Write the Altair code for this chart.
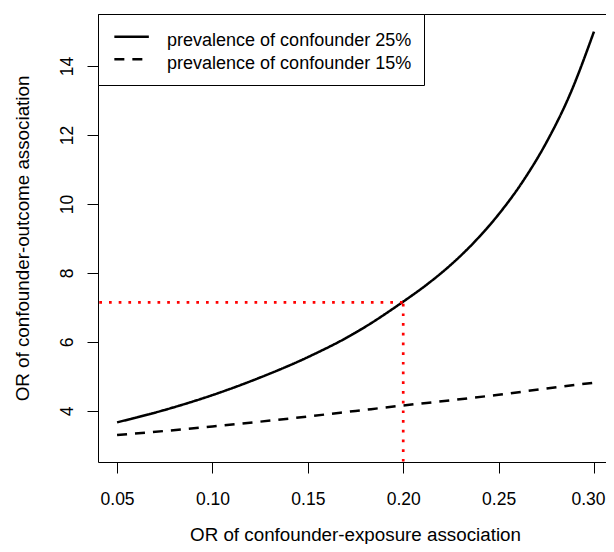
import altair as alt
import pandas as pd

# ---- data ----
x_prev25 = [0.05, 0.075, 0.10, 0.125, 0.15, 0.175, 0.20, 0.2125, 0.225, 0.2375, 0.25, 0.2625, 0.275, 0.2875, 0.30]
or_prev25 = [3.67, 4.03, 4.46, 4.97, 5.56, 6.27, 7.17, 7.67, 8.24, 8.91, 9.70, 10.64, 11.78, 13.19, 15.0]
x_prev15 = [0.05, 0.075, 0.10, 0.125, 0.15, 0.175, 0.20, 0.225, 0.25, 0.275, 0.30]
or_prev15 = [3.30, 3.42, 3.55, 3.69, 3.84, 4.00, 4.16, 4.31, 4.47, 4.65, 4.82]
series_labels = ["prevalence of confounder 25%", "prevalence of confounder 15%"]
x_ticks = [0.05, 0.10, 0.15, 0.20, 0.25, 0.30]
y_ticks = [4, 6, 8, 10, 12, 14]
ref_x = 0.20
ref_y = 7.15

rows = [{"x": a, "y": b, "series": series_labels[0]} for a, b in zip(x_prev25, or_prev25)]
rows += [{"x": a, "y": b, "series": series_labels[1]} for a, b in zip(x_prev15, or_prev15)]
df = pd.DataFrame(rows)

FONT = "Liberation Sans"
xscale = alt.Scale(domain=[0.04, 0.3063], nice=False, zero=False)
yscale = alt.Scale(domain=[2.52, 15.51], nice=False, zero=False)

xaxis = alt.Axis(values=x_ticks, format=".2f", grid=False, domain=False,
                 tickSize=11, tickColor="black", tickWidth=1,
                 labelFont=FONT, labelFontSize=17.5, labelColor="black",
                 labelPadding=17.5, labelFlush=15, labelFlushOffset=11,
                 title="OR of confounder-exposure association",
                 titleFont=FONT, titleFontSize=18.8, titleFontWeight="normal",
                 titleColor="black", titleX=257, titleY=78,
                 titleAlign="center", titleBaseline="alphabetic")
yaxis = alt.Axis(values=y_ticks, grid=False, domain=False,
                 tickSize=11, tickColor="black", tickWidth=1,
                 labelFont=FONT, labelFontSize=17.5, labelColor="black",
                 labelAngle=270, labelAlign="center", labelBaseline="alphabetic",
                 labelPadding=15, labelFlush=False,
                 title="OR of confounder-outcome association",
                 titleFont=FONT, titleFontSize=18.8, titleFontWeight="normal",
                 titleColor="black", titleAngle=270, titleX=-70, titleY=224,
                 titleAlign="center", titleBaseline="alphabetic")

lines = alt.Chart(df).mark_line(
    color="black", strokeWidth=2.5, interpolate="monotone", clip=True, strokeCap="butt"
).encode(
    x=alt.X("x:Q", scale=xscale, axis=xaxis),
    y=alt.Y("y:Q", scale=yscale, axis=yaxis),
    strokeDash=alt.StrokeDash(
        "series:N",
        scale=alt.Scale(domain=series_labels, range=[[1, 0], [10, 8]]),
        legend=alt.Legend(
            title=" ", titleFontSize=1, titlePadding=4,
            orient="none", legendX=0, legendY=0,
            strokeColor="black", fillColor="white", padding=12,
            symbolType="M-2,-0.5H2", symbolSize=297.6, symbolStrokeWidth=2.5,
            symbolStrokeColor="black", symbolOffset=11.6,
            labelOffset=25.45, labelFont=FONT, labelFontSize=18,
            labelColor="black", labelLimit=0, rowPadding=3.5,
        ),
    ),
)

hdf = pd.DataFrame({"x0": [0.0], "x1": [ref_x], "y": [ref_y]})
vdf = pd.DataFrame({"x": [ref_x], "y0": [0.0], "y1": [ref_y]})

hrule = alt.Chart(hdf).mark_rule(color="red", strokeWidth=2.7, strokeDash=[2.7, 7], clip=True).encode(
    x=alt.X("x0:Q", scale=xscale), x2="x1:Q", y=alt.Y("y:Q", scale=yscale))
vrule = alt.Chart(vdf).mark_rule(color="red", strokeWidth=2.7, strokeDash=[2.7, 7], clip=True).encode(
    x=alt.X("x:Q", scale=xscale), y=alt.Y("y0:Q", scale=yscale), y2="y1:Q")

chart = alt.layer(lines, hrule, vrule).properties(
    width=508, height=448,
    autosize=alt.AutoSizeParams(type="none"),
    padding={"left": 90, "top": 6, "right": 0, "bottom": 82},
    background="white",
).configure_view(stroke="black", strokeWidth=1)

chart.save("out.html", embed_options={"renderer": "svg", "actions": False})
